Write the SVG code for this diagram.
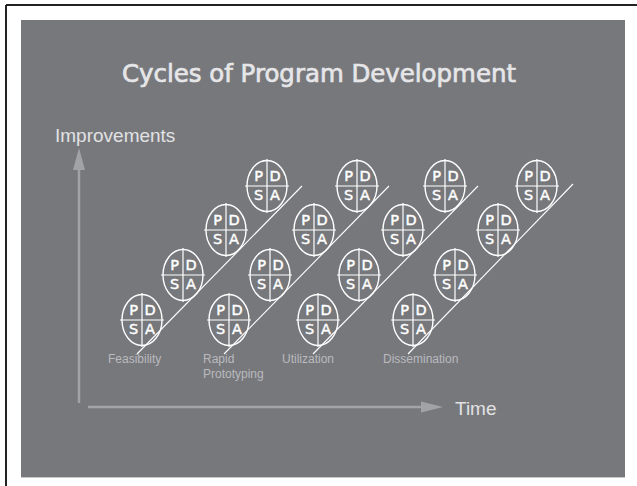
<svg xmlns="http://www.w3.org/2000/svg" width="637" height="486" viewBox="0 0 637 486">
  <defs>
    <style>
      .oval { fill: none; stroke: #ffffff; stroke-width: 1.4; }
      .cross { stroke: #ffffff; stroke-width: 1.2; }
      .pdsa { font-family: "DejaVu Sans", "Liberation Sans", sans-serif; font-size: 14.5px; fill: #ffffff; stroke: #ffffff; stroke-width: 0.45; text-anchor: middle; }
      .trend { stroke: #ffffff; stroke-width: 1.1; fill: none; }
      .axis { stroke: #a2a3a7; stroke-width: 2.5; fill: none; }
      .head { fill: #a2a3a7; }
      .phase { font-family: "Liberation Sans", Arial, sans-serif; font-size: 12px; fill: #b9babe; }
      .axislabel { font-family: "Liberation Sans", Arial, sans-serif; font-size: 19px; fill: #e2e2e4; }
      .title { font-family: "DejaVu Sans", "Liberation Sans", sans-serif; font-size: 25px; fill: #e6e6e8; stroke: #e6e6e8; stroke-width: 0.7; }
    </style>
    <!-- one Plan-Do-Study-Act cycle, centred on the origin -->
    <g id="pdsa">
      <ellipse class="oval" cx="0" cy="0" rx="20" ry="25.5"/>
      <line class="cross" x1="0" y1="-27" x2="0" y2="27"/>
      <line class="cross" x1="-22" y1="0" x2="22" y2="0"/>
      <text class="pdsa" x="-8.5" y="-5">P</text>
      <text class="pdsa" x="8" y="-5">D</text>
      <text class="pdsa" x="-8.5" y="14">S</text>
      <text class="pdsa" x="8" y="14">A</text>
    </g>
  </defs>

  <!-- page -->
  <rect x="0" y="0" width="637" height="486" fill="#ffffff"/>
  <line x1="6" y1="5" x2="637" y2="5" stroke="#222" stroke-width="2"/>
  <line x1="6" y1="5" x2="6" y2="486" stroke="#222" stroke-width="2"/>

  <!-- slide background -->
  <rect x="21" y="20" width="604" height="457" fill="#77787c"/>
  <line x1="21" y1="477.5" x2="625" y2="477.5" stroke="#c9cacc" stroke-width="1"/>

  <text class="title" x="319" y="82" text-anchor="middle" textLength="394" lengthAdjust="spacingAndGlyphs">Cycles of Program Development</text>

  <!-- axes -->
  <g id="axes">
    <line class="axis" x1="79" y1="403" x2="79" y2="166"/>
    <polygon class="head" points="79,148 73,170 85,170"/>
    <line class="axis" x1="88" y1="407" x2="425" y2="407"/>
    <polygon class="head" points="443,407 421,401.5 421,412.5"/>
    <text class="axislabel" x="55" y="142">Improvements</text>
    <text class="axislabel" x="455" y="415">Time</text>
  </g>

  <!-- trend lines of each phase -->
  <g id="connectors">
    <line class="trend" x1="137" y1="354" x2="302" y2="186"/>
    <line class="trend" x1="224" y1="354" x2="389" y2="186"/>
    <line class="trend" x1="313" y1="354" x2="478" y2="186"/>
    <line class="trend" x1="408" y1="354" x2="573" y2="184"/>
  </g>

  <!-- Feasibility -->
  <g id="feasibility">
    <use href="#pdsa" x="142" y="320"/>
    <use href="#pdsa" x="183" y="275"/>
    <use href="#pdsa" x="226" y="230"/>
    <use href="#pdsa" x="267" y="186"/>
    <text class="phase" x="108" y="363">Feasibility</text>
  </g>

  <!-- Rapid Prototyping -->
  <g id="prototyping">
    <use href="#pdsa" x="229" y="320"/>
    <use href="#pdsa" x="270" y="275"/>
    <use href="#pdsa" x="314" y="230"/>
    <use href="#pdsa" x="357" y="186"/>
    <text class="phase" x="203" y="363">Rapid</text>
    <text class="phase" x="203" y="378">Prototyping</text>
  </g>

  <!-- Utilization -->
  <g id="utilization">
    <use href="#pdsa" x="318" y="320"/>
    <use href="#pdsa" x="359" y="275"/>
    <use href="#pdsa" x="403" y="230"/>
    <use href="#pdsa" x="445" y="186"/>
    <text class="phase" x="282" y="363">Utilization</text>
  </g>

  <!-- Dissemination -->
  <g id="dissemination">
    <use href="#pdsa" x="413" y="320"/>
    <use href="#pdsa" x="455" y="275"/>
    <use href="#pdsa" x="498" y="230"/>
    <use href="#pdsa" x="537" y="186"/>
    <text class="phase" x="383" y="363">Dissemination</text>
  </g>
</svg>
